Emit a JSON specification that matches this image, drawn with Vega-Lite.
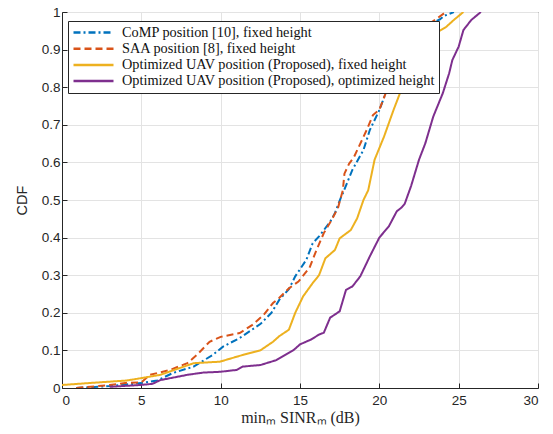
{
 "$schema": "https://vega.github.io/schema/vega-lite/v6.json",
 "width": 476, "height": 376,
 "autosize": "none",
 "padding": {"left": 62, "top": 12, "right": 15, "bottom": 46},
 "config": {
  "view": {"stroke": "#262626", "strokeWidth": 1},
  "axis": {"gridColor": "#e3e3e3", "gridOpacity": 1, "domainColor": "#262626", "tickColor": "#262626", "labelFont": "Liberation Sans", "labelFontSize": 13.5, "labelColor": "#262626", "titleColor": "#262626", "tickSize": -5, "domainWidth": 1}
 },
 "data": {"values": [
  {"s":"a","x":0.9,"y":0},{"s":"a","x":3.0,"y":0.005},{"s":"a","x":5.0,"y":0.013},{"s":"a","x":6.0,"y":0.02},{"s":"a","x":7.0,"y":0.04},{"s":"a","x":8.3,"y":0.057},{"s":"a","x":9.5,"y":0.088},{"s":"a","x":10.15,"y":0.11},{"s":"a","x":11.2,"y":0.133},{"s":"a","x":12.5,"y":0.17},{"s":"a","x":13.2,"y":0.2},{"s":"a","x":13.7,"y":0.235},{"s":"a","x":14.3,"y":0.263},{"s":"a","x":14.7,"y":0.297},{"s":"a","x":15.4,"y":0.341},{"s":"a","x":15.8,"y":0.385},{"s":"a","x":16.2,"y":0.403},{"s":"a","x":16.9,"y":0.442},{"s":"a","x":17.2,"y":0.465},{"s":"a","x":17.6,"y":0.509},{"s":"a","x":17.7,"y":0.518},{"s":"a","x":18.3,"y":0.58},{"s":"a","x":19.0,"y":0.633},{"s":"a","x":19.4,"y":0.686},{"s":"a","x":20.0,"y":0.739},{"s":"a","x":20.4,"y":0.784},{"s":"a","x":21.0,"y":0.84},{"s":"a","x":21.8,"y":0.9},{"s":"a","x":22.6,"y":0.94},{"s":"a","x":23.3,"y":0.97},{"s":"a","x":23.8,"y":0.98},{"s":"a","x":24.1,"y":0.99},{"s":"a","x":24.7,"y":1.0},
  {"s":"b","x":0.9,"y":0},{"s":"b","x":3.0,"y":0.008},{"s":"b","x":4.1,"y":0.014},{"s":"b","x":5.0,"y":0.015},{"s":"b","x":5.55,"y":0.035},{"s":"b","x":6.8,"y":0.048},{"s":"b","x":7.9,"y":0.066},{"s":"b","x":8.5,"y":0.088},{"s":"b","x":9.3,"y":0.123},{"s":"b","x":10.0,"y":0.136},{"s":"b","x":11.2,"y":0.146},{"s":"b","x":12.0,"y":0.168},{"s":"b","x":12.7,"y":0.194},{"s":"b","x":13.3,"y":0.226},{"s":"b","x":13.7,"y":0.24},{"s":"b","x":14.3,"y":0.265},{"s":"b","x":14.9,"y":0.283},{"s":"b","x":15.6,"y":0.32},{"s":"b","x":16.0,"y":0.363},{"s":"b","x":16.5,"y":0.412},{"s":"b","x":17.0,"y":0.447},{"s":"b","x":17.4,"y":0.48},{"s":"b","x":17.7,"y":0.526},{"s":"b","x":17.8,"y":0.57},{"s":"b","x":18.1,"y":0.597},{"s":"b","x":18.4,"y":0.614},{"s":"b","x":19.2,"y":0.686},{"s":"b","x":19.6,"y":0.726},{"s":"b","x":20.0,"y":0.74},{"s":"b","x":20.4,"y":0.784},{"s":"b","x":21.0,"y":0.84},{"s":"b","x":21.8,"y":0.9},{"s":"b","x":22.6,"y":0.94},{"s":"b","x":23.2,"y":0.97},{"s":"b","x":23.7,"y":0.985},{"s":"b","x":24.2,"y":1.0},
  {"s":"c","x":0,"y":0.008},{"s":"c","x":2.0,"y":0.014},{"s":"c","x":4.1,"y":0.02},{"s":"c","x":5.1,"y":0.027},{"s":"c","x":6.2,"y":0.035},{"s":"c","x":8.3,"y":0.066},{"s":"c","x":9.95,"y":0.07},{"s":"c","x":11.4,"y":0.088},{"s":"c","x":12.5,"y":0.1},{"s":"c","x":13.3,"y":0.123},{"s":"c","x":13.7,"y":0.138},{"s":"c","x":14.3,"y":0.155},{"s":"c","x":14.7,"y":0.2},{"s":"c","x":15.2,"y":0.244},{"s":"c","x":15.8,"y":0.279},{"s":"c","x":16.2,"y":0.3},{"s":"c","x":16.6,"y":0.345},{"s":"c","x":17.2,"y":0.367},{"s":"c","x":17.5,"y":0.398},{"s":"c","x":18.2,"y":0.42},{"s":"c","x":18.6,"y":0.451},{"s":"c","x":19.0,"y":0.5},{"s":"c","x":19.3,"y":0.526},{"s":"c","x":19.7,"y":0.607},{"s":"c","x":20.3,"y":0.669},{"s":"c","x":20.9,"y":0.74},{"s":"c","x":21.3,"y":0.784},{"s":"c","x":21.6,"y":0.829},{"s":"c","x":22.2,"y":0.88},{"s":"c","x":22.9,"y":0.92},{"s":"c","x":23.6,"y":0.945},{"s":"c","x":24.2,"y":0.96},{"s":"c","x":24.7,"y":0.979},{"s":"c","x":25.3,"y":1.0},
  {"s":"d","x":3.0,"y":0.003},{"s":"d","x":4.9,"y":0.008},{"s":"d","x":5.7,"y":0.011},{"s":"d","x":6.2,"y":0.021},{"s":"d","x":7.9,"y":0.035},{"s":"d","x":8.9,"y":0.041},{"s":"d","x":9.95,"y":0.043},{"s":"d","x":11.0,"y":0.048},{"s":"d","x":11.4,"y":0.057},{"s":"d","x":12.5,"y":0.061},{"s":"d","x":13.5,"y":0.074},{"s":"d","x":14.6,"y":0.101},{"s":"d","x":15.0,"y":0.116},{"s":"d","x":15.7,"y":0.129},{"s":"d","x":16.2,"y":0.142},{"s":"d","x":16.5,"y":0.147},{"s":"d","x":16.9,"y":0.187},{"s":"d","x":17.5,"y":0.204},{"s":"d","x":17.9,"y":0.261},{"s":"d","x":18.3,"y":0.27},{"s":"d","x":18.8,"y":0.297},{"s":"d","x":19.4,"y":0.35},{"s":"d","x":20.0,"y":0.4},{"s":"d","x":20.6,"y":0.43},{"s":"d","x":21.1,"y":0.47},{"s":"d","x":21.4,"y":0.48},{"s":"d","x":21.6,"y":0.49},{"s":"d","x":22.0,"y":0.537},{"s":"d","x":22.5,"y":0.607},{"s":"d","x":22.9,"y":0.651},{"s":"d","x":23.4,"y":0.722},{"s":"d","x":24.0,"y":0.784},{"s":"d","x":24.4,"y":0.837},{"s":"d","x":24.6,"y":0.872},{"s":"d","x":25.0,"y":0.908},{"s":"d","x":25.3,"y":0.952},{"s":"d","x":25.8,"y":0.979},{"s":"d","x":26.4,"y":1.0}
 ]},
 "mark": {"type": "line", "strokeWidth": 2, "clip": true},
 "encoding": {
  "x": {"field": "x", "type": "quantitative", "scale": {"domain": [0, 30], "nice": false},
   "axis": {"values": [0,5,10,15,20,25,30], "title": "minₘ SINRₘ (dB)", "titleFont": "Liberation Serif", "titleFontSize": 16, "titleFontWeight": "normal", "labelPadding": 10, "titlePadding": 3}},
  "y": {"field": "y", "type": "quantitative", "scale": {"domain": [0, 1], "nice": false},
   "axis": {"values": [0,0.1,0.2,0.3,0.4,0.5,0.6,0.7,0.8,0.9,1], "format": "~g", "title": "CDF", "titleFont": "Liberation Sans", "titleFontSize": 14.5, "titleFontWeight": "normal", "labelPadding": 7, "titlePadding": 12}},
  "color": {"field": "s", "type": "nominal",
   "scale": {"domain": ["a","b","c","d"], "range": ["#0072BD","#D95319","#EDB120","#7E2F8E"]},
   "legend": {"orient": "none", "legendX": 6, "legendY": 9, "title": null, "strokeColor": "#262626", "fillColor": "white", "padding": 4, "symbolType": "stroke", "symbolSize": 1600, "symbolStrokeWidth": 2.5, "labelFont": "Liberation Serif", "labelFontSize": 14.3, "labelColor": "#111", "labelLimit": 500, "rowPadding": 1.2, "clipHeight": 15, "labelOffset": 7,
    "labelExpr": "datum.label == 'a' ? 'CoMP position [10], fixed height' : datum.label == 'b' ? 'SAA position [8], fixed height' : datum.label == 'c' ? 'Optimized UAV position (Proposed), fixed height' : 'Optimized UAV position (Proposed), optimized height'"}},
  "strokeDash": {"field": "s", "type": "nominal",
   "scale": {"domain": ["a","b","c","d"], "range": [[7,3,2,3],[7,4],[1,0],[1,0]]},
   "legend": {"orient": "none", "legendX": 6, "legendY": 9, "title": null, "strokeColor": "#262626", "fillColor": "white", "padding": 4, "symbolType": "stroke", "symbolSize": 1600, "symbolStrokeWidth": 2.5, "labelFont": "Liberation Serif", "labelFontSize": 14.3, "labelColor": "#111", "labelLimit": 500, "rowPadding": 1.2, "clipHeight": 15, "labelOffset": 7,
    "labelExpr": "datum.label == 'a' ? 'CoMP position [10], fixed height' : datum.label == 'b' ? 'SAA position [8], fixed height' : datum.label == 'c' ? 'Optimized UAV position (Proposed), fixed height' : 'Optimized UAV position (Proposed), optimized height'"}}
 }
}
